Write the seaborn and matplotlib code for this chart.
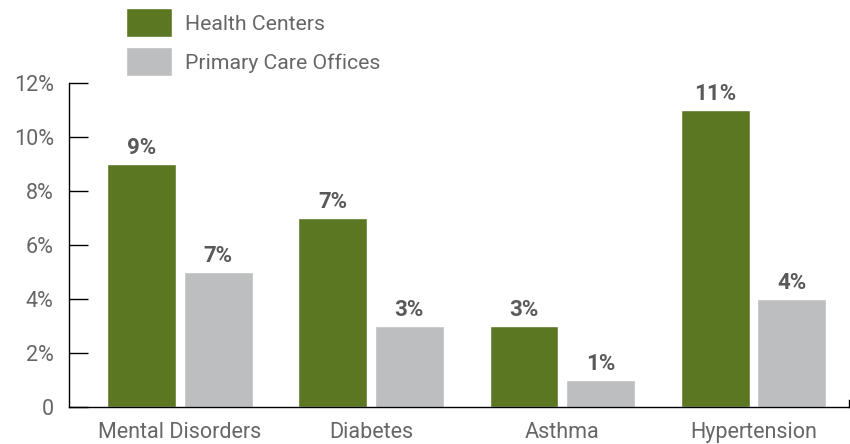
import matplotlib
matplotlib.use("Agg")
import matplotlib.pyplot as plt
import seaborn as sns
import pandas as pd

categories = ["Mental Disorders", "Diabetes", "Asthma", "Hypertension"]
series = ["Health Centers", "Primary Care Offices"]
health_centers = [9, 7, 3, 11]
primary_care = [5, 3, 1, 4]
hc_labels = ["9%", "7%", "3%", "11%"]
pc_labels = ["7%", "3%", "1%", "4%"]
y_ticks = [0, 2, 4, 6, 8, 10, 12]
y_tick_labels = ["0", "2%", "4%", "6%", "8%", "10%", "12%"]

colors = ["#5b7722", "#bdbec0"]
text_gray = "#666666"
label_gray = "#595959"

sns.set_style("white")
plt.rcParams["font.family"] = ["Roboto", "DejaVu Sans"]

df = pd.DataFrame({
    "category": categories * 2,
    "series": [series[0]] * 4 + [series[1]] * 4,
    "value": health_centers + primary_care,
})

fig = plt.figure(figsize=(8.5, 4.44), dpi=100)
ax = fig.add_axes([69 / 850, 37 / 444, 780 / 850, 324 / 444])

sns.barplot(data=df, x="category", y="value", hue="series", order=categories,
            hue_order=series, palette=colors, width=0.8, gap=0.1,
            saturation=1, errorbar=None, ax=ax, legend=True)

for container, labels in zip(ax.containers, [hc_labels, pc_labels]):
    ax.bar_label(container, labels=labels, padding=3.5, fontsize=16,
                 fontweight="bold", color=label_gray)

ax.set_xlim(-0.58, 3.5)
ax.set_ylim(0, 12)
ax.set_yticks(y_ticks)
ax.set_yticklabels(y_tick_labels)
ax.set_xlabel("")
ax.set_ylabel("")

ax.spines["top"].set_visible(False)
for s in ["left", "bottom", "right"]:
    ax.spines[s].set_color("black")
    ax.spines[s].set_linewidth(1.0)
ax.spines["right"].set_bounds(0, 0.25)

ax.tick_params(axis="y", direction="in", length=13.5, width=1.0, color="black",
               pad=11, labelsize=15.5, labelcolor=text_gray, left=True)
ax.tick_params(axis="x", length=0, pad=11, labelsize=15.5, labelcolor=text_gray)

handles, lbls = ax.get_legend_handles_labels()
ax.legend(handles, lbls, loc="upper left", bbox_to_anchor=(126 / 850, 1 - 8 / 444),
          bbox_transform=fig.transFigure, frameon=False, fontsize=15.3,
          handlelength=2.16, handleheight=1.75, labelspacing=0.45,
          handletextpad=0.6, borderaxespad=0, borderpad=0,
          labelcolor=text_gray)

fig.savefig("out.png", dpi=100)
